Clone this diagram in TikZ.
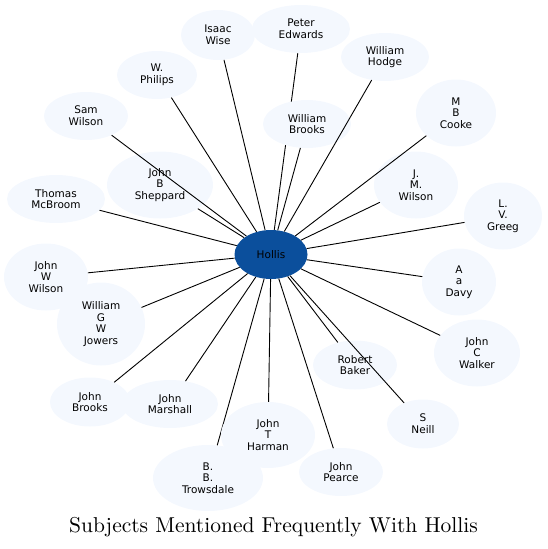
\documentclass[tikz,border=0pt]{standalone}
\usepackage{fontspec}
\newfontfamily\nodefont{DejaVu Sans}
\newfontfamily\titlefont{lmroman10-regular.otf}
\usetikzlibrary{shapes.geometric}
\definecolor{nodefill}{HTML}{F4F8FE}
\definecolor{hollisblue}{HTML}{0B4F9C}
\tikzset{
  person/.style={ellipse, fill=nodefill, inner sep=0pt, align=center,
    font=\nodefont\fontsize{10.5}{11.7}\selectfont},
  sz/.style 2 args={minimum width=#1pt, minimum height=#2pt},
  link/.style={draw=black, line width=0.9pt},
}
\begin{document}
\begin{tikzpicture}[x=1pt,y=-1pt]
\useasboundingbox (0,0) rectangle (547,549);
\node[person, sz={73}{49}, fill=hollisblue] (hollis) at (271,254.5) {Hollis};
\node[person, sz={74}{50}] (wise) at (218,35) {Isaac\\Wise};
\node[person, sz={98}{48}] (edwards) at (301,29) {Peter\\Edwards};
\draw[link] (hollis) -- (edwards);
\node[person, sz={88}{48}] (hodge) at (385,57) {William\\Hodge};
\node[person, sz={80}{48}] (philips) at (157,75) {W.\\Philips};
\node[person, sz={88}{48}] (wbrooks) at (307,124) {William\\Brooks};
\node[person, sz={80}{67}] (cooke) at (456,113) {M\\B\\Cooke};
\node[person, sz={84}{48}] (swilson) at (86,116) {Sam\\Wilson};
\node[person, sz={106}{67}] (sheppard) at (160,185) {John\\B\\Sheppard};
\node[person, sz={84}{67}] (jmwilson) at (416,185) {J.\\M.\\Wilson};
\node[person, sz={98}{48}] (mcbroom) at (56,199) {Thomas\\McBroom};
\node[person, sz={78}{67}] (greeg) at (503,216) {L.\\V.\\Greeg};
\node[person, sz={84}{67}] (jwwilson) at (46,277) {John\\W\\Wilson};
\node[person, sz={74}{67}] (davy) at (459,282) {A\\a\\Davy};
\node[person, sz={88}{83}] (jowers) at (101,324) {William\\G\\W\\Jowers};
\node[person, sz={86}{67}] (walker) at (477,353) {John\\C\\Walker};
\node[person, sz={84}{49}] (baker) at (355,365) {Robert\\Baker};
\node[person, sz={80}{49}] (jbrooks) at (90,402) {John\\Brooks};
\node[person, sz={96}{48}] (marshall) at (170,404) {John\\Marshall};
\node[person, sz={72}{49}] (neill) at (423,424) {S\\Neill};
\node[person, sz={84}{48}] (pearce) at (341,472) {John\\Pearce};
\node[person, sz={110}{66}] (trowsdale) at (208,478) {B.\\B.\\Trowsdale};
\draw[link] (hollis) -- (trowsdale);
\node[person, sz={94}{66}] (harman) at (268,435) {John\\T\\Harman};
\foreach \n in {wise,hodge,philips,wbrooks,cooke,swilson,sheppard,jmwilson,mcbroom,greeg,jwwilson,davy,jowers,walker,baker,jbrooks,marshall,neill,pearce,harman}
  \draw[link] (hollis) -- (\n);
\node[inner sep=0pt, font=\titlefont\fontsize{21.5}{24}\selectfont] (title) at (273.5,527) {Subjects Mentioned Frequently With Hollis};
\end{tikzpicture}
\end{document}
